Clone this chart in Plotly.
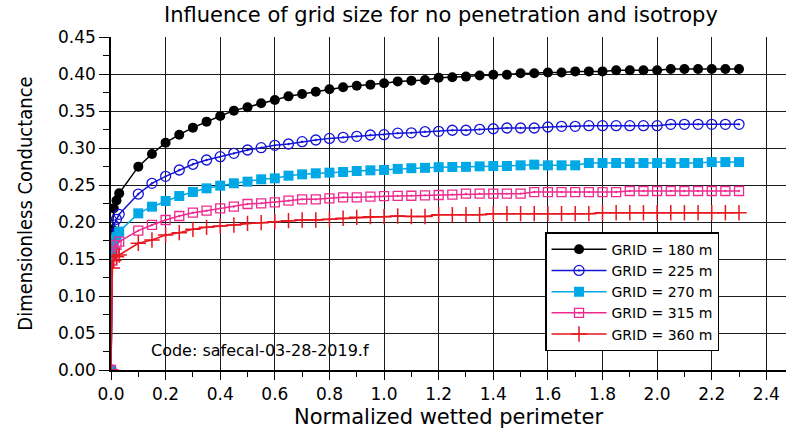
import plotly.graph_objects as go

# x values (normalized wetted perimeter)
x_near = [0.0, 0.005, 0.01, 0.02, 0.03]
x_main = [round(0.1 + 0.05 * i, 2) for i in range(45)]  # 0.10 .. 2.30
x_vals = x_near + x_main

grid_180 = [0.0, 0.190, 0.2185, 0.229, 0.2387,
            0.2748, 0.2919, 0.3072, 0.318, 0.3275, 0.3356, 0.3432, 0.3505, 0.355, 0.3604,
            0.3649, 0.3698, 0.373, 0.3761, 0.3793, 0.382, 0.3842, 0.3856, 0.3874, 0.390,
            0.391, 0.392, 0.395, 0.3955, 0.3965, 0.398, 0.399, 0.399, 0.401, 0.401,
            0.402, 0.402, 0.4035, 0.4035, 0.4035, 0.405, 0.405, 0.405, 0.405, 0.4067,
            0.4067, 0.4067, 0.4067, 0.4067, 0.4067]
grid_225 = [0.0, 0.170, 0.196, 0.2036, 0.2104,
            0.2378, 0.2523, 0.2617, 0.2703, 0.278, 0.2838, 0.2883, 0.2928, 0.2973, 0.3005,
            0.3036, 0.3054, 0.3086, 0.3108, 0.313, 0.3144, 0.3158, 0.3176, 0.318, 0.320,
            0.3205, 0.322, 0.3225, 0.324, 0.324, 0.3252, 0.326, 0.327, 0.327, 0.327,
            0.3284, 0.3293, 0.3293, 0.3302, 0.3302, 0.3302, 0.3302, 0.3302, 0.3302, 0.332,
            0.332, 0.332, 0.332, 0.332, 0.332]
grid_270 = [0.0, 0.155, 0.170, 0.180, 0.187,
            0.2117, 0.2207, 0.2284, 0.2351, 0.2405, 0.2455, 0.2491, 0.2523, 0.2545, 0.2577,
            0.259, 0.2626, 0.2644, 0.2658, 0.2667, 0.2676, 0.2689, 0.2698, 0.2703, 0.2718,
            0.2727, 0.2732, 0.2741, 0.2743, 0.2745, 0.2752, 0.2757, 0.2757, 0.2766, 0.2775,
            0.2766, 0.2766, 0.2766, 0.2797, 0.2797, 0.2797, 0.2797, 0.2797, 0.2797, 0.2797,
            0.2797, 0.2797, 0.281, 0.281, 0.281]
grid_315 = [0.0, 0.148, 0.160, 0.169, 0.1734,
            0.1883, 0.196, 0.2027, 0.2081, 0.2126, 0.2153, 0.2185, 0.2207, 0.2243, 0.2252,
            0.2266, 0.2288, 0.2306, 0.2306, 0.232, 0.2333, 0.2333, 0.2342, 0.2351, 0.2353,
            0.2355, 0.236, 0.2365, 0.237, 0.2383, 0.2383, 0.2383, 0.2383, 0.2383, 0.2405,
            0.2405, 0.2405, 0.2405, 0.2405, 0.2405, 0.2405, 0.2419, 0.2419, 0.2419, 0.2419,
            0.2419, 0.2419, 0.2419, 0.2419, 0.2419]
grid_360 = [0.0, 0.138, 0.148, 0.153, 0.1554,
            0.1712, 0.1757, 0.1824, 0.1856, 0.1901, 0.1928, 0.1946, 0.196, 0.1982, 0.1991,
            0.2005, 0.2018, 0.2027, 0.2027, 0.2036, 0.205, 0.2063, 0.2072, 0.2072, 0.2081,
            0.2075, 0.2075, 0.2099, 0.2099, 0.2099, 0.2099, 0.2113, 0.2113, 0.2113, 0.2113,
            0.2113, 0.2113, 0.2113, 0.2113, 0.2126, 0.2126, 0.2126, 0.2126, 0.2126, 0.2126,
            0.2126, 0.2126, 0.2126, 0.2126, 0.2126]

series = [
    ("GRID = 180 m", grid_180, "#000000", dict(symbol="circle", size=10)),
    ("GRID = 225 m", grid_225, "#1414d8", dict(symbol="circle-open-dot", size=10, line=dict(width=1.3))),
    ("GRID = 270 m", grid_270, "#00a9e6", dict(symbol="square", size=10)),
    ("GRID = 315 m", grid_315, "#ee2a8e", dict(symbol="square-open-dot", size=9, line=dict(width=1.3))),
    ("GRID = 360 m", grid_360, "#e8161e", dict(symbol="cross-thin", size=11, line=dict(width=1.5, color="#e8161e"))),
]

fig = go.Figure()
for name, vals, color, mk in series:
    mk = dict(mk)
    mk["color"] = color
    if "line" in mk and "color" not in mk["line"]:
        mk["line"]["color"] = color
    fig.add_trace(go.Scatter(
        x=x_vals, y=vals, name=name, mode="lines+markers",
        line=dict(color=color, width=1.5), marker=mk,
    ))

tick_font = dict(family="DejaVu Sans", size=17, color="black")

fig.update_layout(
    width=786, height=429,
    margin=dict(l=111, r=0, t=37, b=59),
    paper_bgcolor="white", plot_bgcolor="white",
    title=dict(text="Influence of grid size for no penetration and isotropy",
               font=dict(family="DejaVu Sans", size=21, color="black"),
               x=0.561, xanchor="center", y=0.965, yanchor="middle"),
    showlegend=True,
    legend=dict(x=0.643, y=0.414, xanchor="left", yanchor="top",
                bgcolor="white", bordercolor="black", borderwidth=1.5,
                font=dict(family="DejaVu Sans", size=14, color="black"),
                itemwidth=55, tracegroupgap=0),
    annotations=[dict(text="Code: safecal-03-28-2019.f", xref="paper", yref="paper",
                      x=0.057, y=0.06, xanchor="left", yanchor="middle", showarrow=False,
                      font=dict(family="DejaVu Sans", size=16, color="black"))],
)

fig.update_xaxes(
    range=[0, 2.472], tickmode="linear", tick0=0, dtick=0.2, tickformat=".1f",
    showgrid=True, gridcolor="#1a1a1a", gridwidth=1.3,
    showline=True, linecolor="black", linewidth=1.5, zeroline=False,
    ticks="outside", ticklen=8, tickwidth=1.3, tickcolor="black",
    minor=dict(dtick=0.1, tick0=0, ticks="outside", ticklen=5, tickwidth=1.3, tickcolor="black", showgrid=False),
    tickfont=tick_font,
    title=dict(text="Normalized wetted perimeter", font=dict(family="DejaVu Sans", size=21, color="black"), standoff=6),
)
fig.update_yaxes(
    range=[0, 0.45], tickmode="linear", tick0=0, dtick=0.05, tickformat=".2f",
    showgrid=True, gridcolor="#1a1a1a", gridwidth=1.3,
    showline=True, linecolor="black", linewidth=1.5, zeroline=False,
    ticks="outside", ticklen=10, tickwidth=1.3, tickcolor="black",
    minor=dict(dtick=0.025, tick0=0, ticks="outside", ticklen=6, tickwidth=1.3, tickcolor="black", showgrid=False),
    tickfont=tick_font,
    title=dict(text="Dimensionless Conductance", font=dict(family="DejaVu Sans Condensed, DejaVu Sans", size=20, color="black"), standoff=20),
)

fig.write_html("out.html")
